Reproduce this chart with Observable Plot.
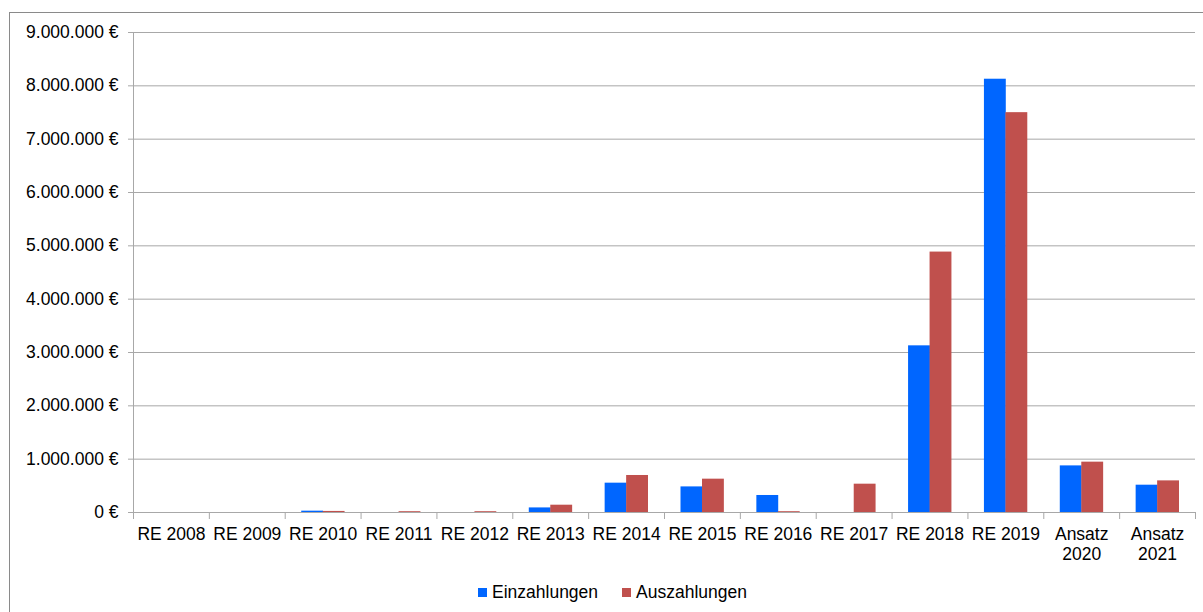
<!DOCTYPE html>
<html>
<head>
<meta charset="utf-8">
<script src="https://cdn.jsdelivr.net/npm/d3@7"></script>
<script src="https://cdn.jsdelivr.net/npm/@observablehq/plot@0.6"></script>
<style>
  html, body { margin: 0; padding: 0; background: #fff; overflow: hidden; }
  #wrap { position: relative; width: 1203px; height: 612px; overflow: hidden; font-family: "Liberation Sans", Arial, sans-serif; }
  #frame { position: absolute; left: 9px; top: 12px; width: 1400px; height: 800px; border: 1.5px solid #8a8a8a; box-sizing: border-box; }
  #chart { position: absolute; left: 0; top: 0; }
  #legend { position: absolute; left: 478px; top: 582px; display: flex; align-items: center; font-size: 17.5px; color: #000; white-space: nowrap; }
  #legend .sw { display: inline-block; width: 9px; height: 9px; margin-right: 5px; }
  #legend .item { display: flex; align-items: center; margin-right: 24px; }
</style>
</head>
<body>
<div id="wrap">
  <div id="frame"></div>
  <div id="chart"></div>
  <div id="legend"></div>
</div>
<script>
const categories = ["RE 2008", "RE 2009", "RE 2010", "RE 2011", "RE 2012", "RE 2013", "RE 2014",
  "RE 2015", "RE 2016", "RE 2017", "RE 2018", "RE 2019", "Ansatz\n2020", "Ansatz\n2021"];
const einzahlungen = [0, 0, 25000, 0, 0, 86000, 550000, 480000, 319000, 0, 3125000, 8124000, 874000, 512000];
const auszahlungen = [0, 0, 20000, 15000, 15000, 137000, 694000, 625000, 15000, 531000, 4883000, 7497000, 944000, 593000];
const seriesNames = ["Einzahlungen", "Auszahlungen"];
const seriesColors = ["#0066ff", "#c0504d"];
const yTicks = [0, 1000000, 2000000, 3000000, 4000000, 5000000, 6000000, 7000000, 8000000, 9000000];

const width = 1203, height = 612;
const marginLeft = 133, marginRight = 8, marginTop = 32, marginBottom = 100;
const step = (width - marginLeft - marginRight) / categories.length;

const de = d3.formatLocale({decimal: ",", thousands: ".", grouping: [3], currency: ["", " €"]});
const fmt = d => de.format(",.0f")(d) + " €";

const data = categories.flatMap((c, i) => [
  {cat: c, series: seriesNames[0], value: einzahlungen[i]},
  {cat: c, series: seriesNames[1], value: auszahlungen[i]}
]);

const grid = "#a8a8a8";

const plot = Plot.plot({
  width, height, marginLeft, marginRight, marginTop, marginBottom,
  style: {fontSize: "17.5px", fontFamily: "'Liberation Sans', Arial, sans-serif", background: "transparent", color: "#000", overflow: "visible"},
  x: {type: "band", domain: categories, padding: 0, round: false, label: null},
  y: {domain: [0, 9000000], label: null},
  color: {domain: seriesNames, range: seriesColors},
  marks: [
    Plot.gridY(yTicks, {stroke: grid, strokeOpacity: 1}),
    Plot.ruleX([categories[0]], {dx: -step / 2, y1: 0, y2: 9000000, stroke: grid}),
    Plot.axisY(yTicks, {tickSize: 5, tickPadding: 10, tickFormat: fmt, stroke: grid, label: null}),
    Plot.axisX({tickSize: 7, text: null, dx: -step / 2, stroke: grid, label: null}),
    Plot.axisX([categories[categories.length - 1]], {tickSize: 7, text: null, dx: step / 2, stroke: grid, label: null}),
    Plot.axisX({tickSize: 0, tickPadding: 13, lineHeight: 1.15, label: null}),
    Plot.barY(data.filter(d => d.series === seriesNames[0]), {x: "cat", y: "value", fill: "series", insetLeft: 16.5, insetRight: 37.5}),
    Plot.barY(data.filter(d => d.series === seriesNames[1]), {x: "cat", y: "value", fill: "series", insetLeft: 38, insetRight: 16})
  ]
});
document.getElementById("chart").appendChild(plot);

const legend = document.getElementById("legend");
seriesNames.forEach((s, i) => {
  const item = document.createElement("span");
  item.className = "item";
  const sw = document.createElement("span");
  sw.className = "sw";
  sw.style.background = seriesColors[i];
  item.appendChild(sw);
  item.appendChild(document.createTextNode(s));
  legend.appendChild(item);
});
</script>
</body>
</html>
